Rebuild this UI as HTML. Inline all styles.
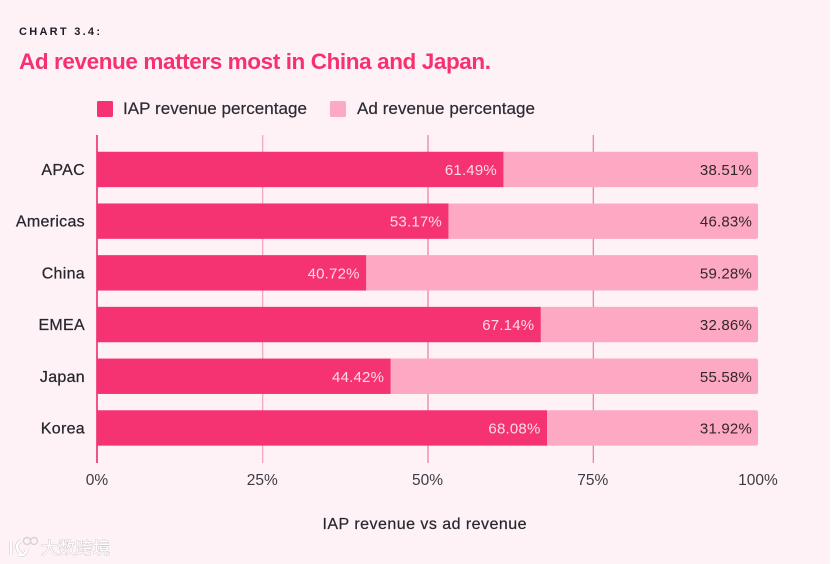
<!DOCTYPE html>
<html lang="en">
<head>
<meta charset="utf-8">
<title>Chart 3.4</title>
<style>
html,body{margin:0;padding:0;background:#fef2f6;}
body{width:831px;height:564px;overflow:hidden;position:relative;font-family:"Liberation Sans","Noto Sans CJK SC",sans-serif;}
svg{position:absolute;left:0;top:0;}
text{font-family:"Liberation Sans","Noto Sans CJK SC",sans-serif;}
</style>
</head>
<body>
<svg id="chart" width="831" height="564" viewBox="0 0 831 564" xmlns="http://www.w3.org/2000/svg">
  <rect x="0" y="0" width="831" height="564" fill="#fef2f6"/>
  <rect x="830" y="0" width="1" height="564" fill="#ffffff"/>
  <text x="19" y="35" font-size="11" font-weight="700" fill="#1c1c28" textLength="81" lengthAdjust="spacing">CHART 3.4:</text>
  <text x="19" y="69" font-size="22.5" font-weight="700" fill="#f5326f" textLength="472" lengthAdjust="spacing">Ad revenue matters most in China and Japan.</text>
  <rect x="97" y="101" width="16" height="16" rx="1.5" fill="#f53373"/>
  <text x="123" y="114" font-size="17" fill="#2b2b33" stroke="#2b2b33" stroke-width="0.2" textLength="184" lengthAdjust="spacing">IAP revenue percentage</text>
  <rect x="330" y="101" width="16" height="16" rx="1.5" fill="#fda9c3"/>
  <text x="357" y="114" font-size="17" fill="#2b2b33" stroke="#2b2b33" stroke-width="0.2" textLength="178" lengthAdjust="spacing">Ad revenue percentage</text>
  <g id="grid"></g>
  <g id="bars"></g>
  <g id="axis"></g>
  <text x="424.5" y="529" font-size="16" fill="#26262e" stroke="#26262e" stroke-width="0.2" text-anchor="middle" textLength="204" lengthAdjust="spacing">IAP revenue vs ad revenue</text>
  <g>
    <path d="M11 541v14M21 541c-7 4 -4 9 1 14M19 555c4 1 7 -1 8 -6" fill="none" stroke="#d9d2d6" stroke-width="3.6"/>
    <path d="M11 541v14M21 541c-7 4 -4 9 1 14M19 555c4 1 7 -1 8 -6" fill="none" stroke="#ffffff" stroke-width="2.2"/>
    <circle cx="27" cy="541" r="3.5" fill="none" stroke="#d9d2d6" stroke-width="1.4"/>
    <circle cx="34" cy="541" r="3.5" fill="none" stroke="#d9d2d6" stroke-width="1.4"/>
    <text x="41" y="554" font-size="17" fill="#ffffff" stroke="#cfc7cb" stroke-width="0.9" paint-order="stroke" textLength="69" lengthAdjust="spacing">大数跨境</text>
  </g>
</svg>
<script>
const categories = ["APAC", "Americas", "China", "EMEA", "Japan", "Korea"];
const iapValues = [61.49, 53.17, 40.72, 67.14, 44.42, 68.08];
const adValues = [38.51, 46.83, 59.28, 32.86, 55.58, 31.92];
const tickValues = [0, 25, 50, 75, 100];
const tickLabels = ["0%", "25%", "50%", "75%", "100%"];

const NS = "http://www.w3.org/2000/svg";
const plotLeft = 97, plotRight = 758, plotTop = 135, plotBottom = 463;
const bandStart = 143.6, bandStep = 51.7, barHeight = 35.4;

function xScale(v) { return plotLeft + (v / 100) * (plotRight - plotLeft); }
function yCenter(i) { return bandStart + bandStep * i + bandStep / 2; }
function make(tag, parent, props) {
  const el = document.createElementNS(NS, tag);
  for (const k in props) el.setAttribute(k, props[k]);
  parent.appendChild(el);
  return el;
}

const grid = document.getElementById("grid");
const bars = document.getElementById("bars");
const axis = document.getElementById("axis");

tickValues.forEach(function (t, i) {
  if (t < 100) {
    const line = make("line", grid, {
      x1: xScale(t) + (i === 0 ? 0 : 0.5), x2: xScale(t) + (i === 0 ? 0 : 0.5), y1: plotTop, y2: plotBottom,
      stroke: i === 0 ? "#f0528a" : (i === 1 ? "#f18fb0" : "#e8608f"),
      "stroke-width": i === 0 ? 2 : 1
    });
    
    
  }
  const label = make("text", axis, {
    x: xScale(t), y: 485, "font-size": 15.5, fill: "#3c3c44", "text-anchor": "middle"
  });
  label.textContent = tickLabels[i];
  
  
});

categories.forEach(function (c, i) {
  const cy = yCenter(i);
  const top = cy - barHeight / 2;

  const adBar = make("path", bars, {
    d: "M" + xScale(iapValues[i]) + " " + top +
       "H" + (xScale(iapValues[i] + adValues[i]) - 2) +
       "q2 0 2 2V" + (top + barHeight - 2) +
       "q0 2 -2 2H" + xScale(iapValues[i]) + "Z",
    fill: "#fda9c3"
  });
  
  

  const iapBar = make("rect", bars, {
    x: xScale(0), y: top, width: xScale(iapValues[i]) - xScale(0), height: barHeight, fill: "#f53373"
  });
  
  

  const iapLabel = make("text", bars, {
    x: xScale(iapValues[i]) - 6.5, y: cy + 5.5, "font-size": 15, "letter-spacing": 0.2, fill: "#ffdbe6", "text-anchor": "end"
  });
  iapLabel.textContent = iapValues[i].toFixed(2) + "%";
  
  

  const adLabel = make("text", bars, {
    x: xScale(iapValues[i] + adValues[i]) - 6, y: cy + 5.5, "font-size": 15, "letter-spacing": 0.2, fill: "#33262c", "text-anchor": "end"
  });
  adLabel.textContent = adValues[i].toFixed(2) + "%";
  
  

  const catLabel = make("text", axis, {
    x: 85, y: cy + 5.5, "font-size": 16, "letter-spacing": 0.3, fill: "#26262e", stroke: "#26262e", "stroke-width": 0.25, "text-anchor": "end"
  });
  catLabel.textContent = c;
  
  
});
</script>
</body>
</html>
